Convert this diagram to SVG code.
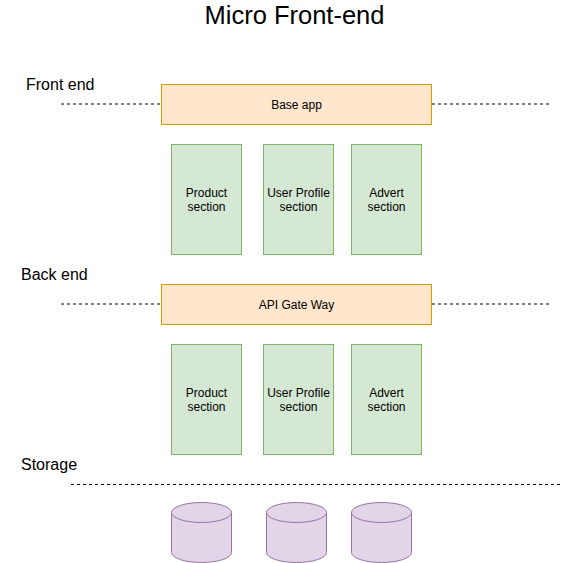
<svg xmlns="http://www.w3.org/2000/svg" width="563" height="563" viewBox="0 0 563 563">
<style>
text{font-family:"Liberation Sans",Arial,sans-serif;fill:#000}
.lbl{font-size:12px;text-anchor:middle}
.sec{font-size:16px}
.orange{fill:#ffe6cc;stroke:#d79b00;stroke-width:1}
.green{fill:#d5e8d4;stroke:#82b366;stroke-width:1}
.db{fill:#e1d5e7;stroke:#9673a6;stroke-width:1}
.dash{stroke:#000;stroke-width:1;stroke-dasharray:3 3;fill:none}
</style>
<rect width="563" height="563" fill="#fff"/>
<text x="294.5" y="24" font-size="25.5" text-anchor="middle">Micro Front-end</text>
<g id="labels">
<text class="sec" x="26" y="90">Front end</text>
<text class="sec" x="21" y="280">Back end</text>
<text class="sec" x="21" y="470">Storage</text>
</g>
<g id="connectors">
<path class="dash" d="M61 104H161M432 104H551"/>
<path class="dash" d="M61 304H161M432 304H551"/>
<path class="dash" d="M71 484.5H561"/>
</g>
<g id="base-app"><rect class="orange" x="161.5" y="84.5" width="270" height="40"/><text class="lbl" x="296.5" y="109">Base app</text></g>
<g id="fe-product"><rect class="green" x="171.5" y="144.5" width="70" height="110"/><text class="lbl" x="206.5" y="197">Product</text><text class="lbl" x="206.5" y="211">section</text></g>
<g id="fe-user"><rect class="green" x="263.5" y="144.5" width="70" height="110"/><text class="lbl" x="298.5" y="197">User Profile</text><text class="lbl" x="298.5" y="211">section</text></g>
<g id="fe-advert"><rect class="green" x="351.5" y="144.5" width="70" height="110"/><text class="lbl" x="386.5" y="197">Advert</text><text class="lbl" x="386.5" y="211">section</text></g>
<g id="api-gateway"><rect class="orange" x="161.5" y="284.5" width="270" height="40"/><text class="lbl" x="296.5" y="309">API Gate Way</text></g>
<g id="be-product"><rect class="green" x="171.5" y="344.5" width="70" height="110"/><text class="lbl" x="206.5" y="397">Product</text><text class="lbl" x="206.5" y="411">section</text></g>
<g id="be-user"><rect class="green" x="263.5" y="344.5" width="70" height="110"/><text class="lbl" x="298.5" y="397">User Profile</text><text class="lbl" x="298.5" y="411">section</text></g>
<g id="be-advert"><rect class="green" x="351.5" y="344.5" width="70" height="110"/><text class="lbl" x="386.5" y="397">Advert</text><text class="lbl" x="386.5" y="411">section</text></g>
<g id="db1"><path class="db" d="M171.5 512.5A30 10 0 0 1 231.5 512.5V552.5A30 10 0 0 1 171.5 552.5Z"/><path class="db" d="M171.5 512.5A30 10 0 0 0 231.5 512.5" fill="none"/></g>
<g id="db2"><path class="db" d="M266.5 512.5A30 10 0 0 1 326.5 512.5V552.5A30 10 0 0 1 266.5 552.5Z"/><path class="db" d="M266.5 512.5A30 10 0 0 0 326.5 512.5" fill="none"/></g>
<g id="db3"><path class="db" d="M351.5 512.5A30 10 0 0 1 411.5 512.5V552.5A30 10 0 0 1 351.5 552.5Z"/><path class="db" d="M351.5 512.5A30 10 0 0 0 411.5 512.5" fill="none"/></g>
</svg>
